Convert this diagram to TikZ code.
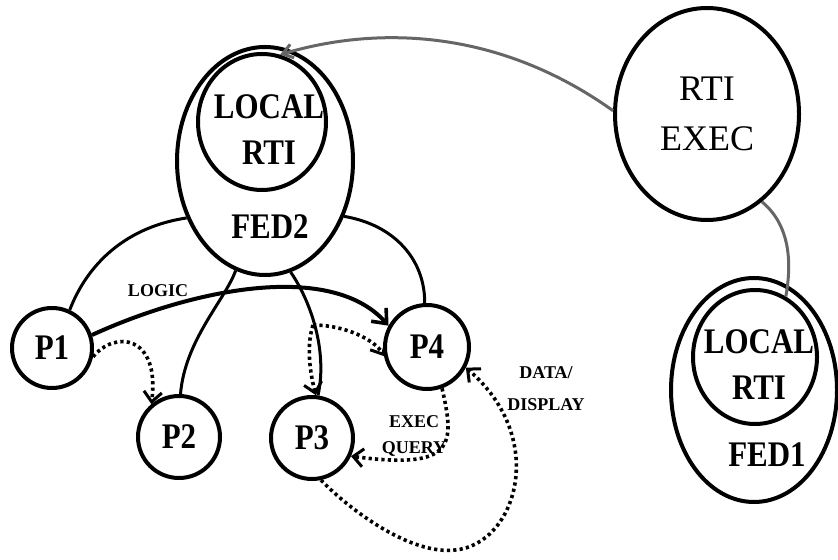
\documentclass[tikz,border=0pt]{standalone}
\usepackage{graphicx}
\usepackage{fontspec}
\setmainfont{Liberation Serif}
\usetikzlibrary{arrows.meta,shapes.geometric}

\newcommand{\narrowtext}[1]{\scalebox{0.86}[1]{#1}}

\begin{document}
\begin{tikzpicture}[
  x=0.5pt, y=-0.5pt,
  fed/.style={draw, ellipse, line width=2pt, inner sep=0pt},
  proc/.style={draw, circle, line width=2pt, inner sep=0pt, minimum size=40pt,
    font=\fontsize{18}{22}\selectfont\bfseries},
  big text/.style={align=center, inner sep=0pt, font=\fontsize{18}{23}\selectfont\bfseries},
  small text/.style={align=center, font=\fontsize{9}{13}\selectfont\bfseries},
  link/.style={line width=1.5pt},
  rti link/.style={line width=1.5pt, black!60},
  msg/.style={line width=1.8pt, dash pattern=on 1.6pt off 1.6pt,
    -{Straight Barb[length=5pt,width=9pt,line width=1.5pt]}},
]
\useasboundingbox (0,0) rectangle (838,560);

\node[fed, minimum width=88pt, minimum height=114pt] (fed2) at (265,161) {};
\node[fed, minimum width=64pt, minimum height=68pt] (localtwo) at (262,122) {};
\node[big text] (localtwo text) at (269,130) {\narrowtext{LOCAL}\\\narrowtext{RTI}};
\node[big text] (fed2 label) at (270,227) {\narrowtext{FED2}};

\node[fed, minimum width=92pt, minimum height=106pt,
  align=center, font=\fontsize{18}{25}\selectfont] (rtiexec) at (707,114) {RTI\\EXEC};

\node[fed, minimum width=83pt, minimum height=112pt] (fed1) at (754,390) {};
\node[fed, minimum width=62pt, minimum height=67pt] (localone) at (755,357) {};
\node[big text] (localone text) at (759,365) {\narrowtext{LOCAL}\\\narrowtext{RTI}};
\node[big text] (fed1 label) at (767,455) {\narrowtext{FED1}};

\node[proc] (p1) at (52,348) {\narrowtext{P1}};
\node[proc, minimum size=41pt] (p2) at (179,437) {\narrowtext{P2}};
\node[proc, minimum size=41pt] (p3) at (312,438) {\narrowtext{P3}};
\node[proc, minimum size=42pt] (p4) at (427,347) {\narrowtext{P4}};

\draw[rti link, -{Straight Barb[length=5pt,width=7pt]}]
  (rtiexec.178) .. controls (500,30) and (380,25) .. (localtwo.75);
\draw[rti link] (rtiexec.-58) .. controls (790,225) and (792,262) .. (localone.63);

\draw[link] (fed2.216) .. controls (120,228) and (85,270) .. (p1.65);
\draw[link] (fed2.255) .. controls (225,300) and (185,340) .. (p2.88);
\draw[link] (fed2.283) .. controls (310,300) and (328,350) .. (p3.82);
\draw[link] (fed2.325) .. controls (395,225) and (425,260) .. (p4.93);

\draw[link, line width=2pt, -{Straight Barb[length=6pt,width=10pt,line width=1.8pt]}]
  (p1.18) .. controls (190,290) and (330,260) .. (p4.151);
\node[small text] (logic) at (158,291) {LOGIC};

\draw[msg] (p1.-12) .. controls (115,330) and (160,335) .. (p2.130);

\coordinate (fork) at (313,325);
\draw[msg] (fork) .. controls (345,325) and (375,340) .. (p4.192);
\draw[msg] (fork) .. controls (305,350) and (312,380) .. (p3.85);

\draw[msg] (p4.-70) .. controls (455,445) and (455,470) .. (p3.-25);
\node[small text] (execquery) at (414,436) {EXEC\\QUERY};

\draw[msg] (p3.-78) .. controls (350,510) and (410,555) .. (455,550)
  .. controls (515,545) and (550,440) .. (p4.-28);
\node[small text, font=\fontsize{9}{16}\selectfont\bfseries] (datadisplay) at (546,389) {DATA/\\DISPLAY};
\end{tikzpicture}
\end{document}
